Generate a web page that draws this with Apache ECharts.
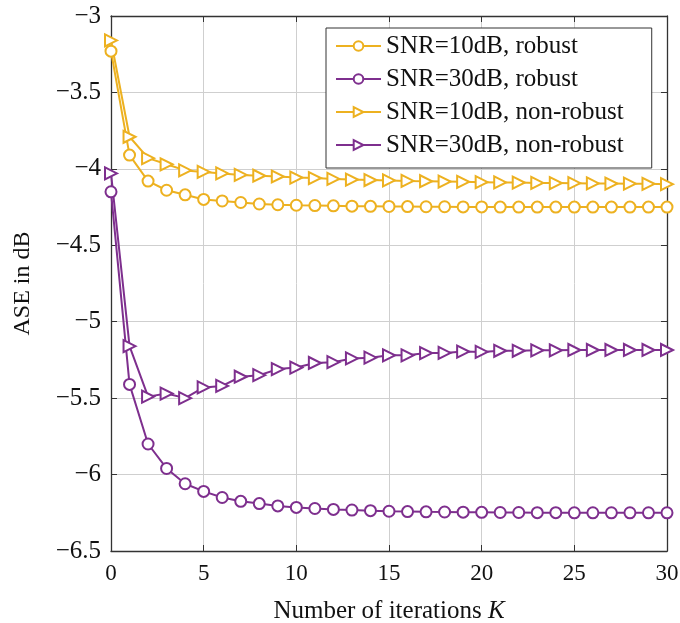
<!DOCTYPE html>
<html>
<head>
<meta charset="utf-8">
<script src="https://cdn.jsdelivr.net/npm/echarts@6/dist/echarts.min.js"></script>
<style>
  html, body { margin: 0; padding: 0; background: #fff; }
  #chart { width: 680px; height: 623px; }
</style>
</head>
<body>
<div id="chart"></div>
<script>
// iterations K = 0..30
var iterations = [];
for (var i = 0; i <= 30; i++) iterations.push(i);

var snr10Robust = [-3.23, -3.91, -4.08, -4.14, -4.17, -4.20, -4.21, -4.22, -4.23, -4.235,
  -4.238, -4.24, -4.242, -4.244, -4.245, -4.246, -4.247, -4.248, -4.248, -4.249,
  -4.249, -4.25, -4.25, -4.25, -4.25, -4.25, -4.25, -4.25, -4.25, -4.25, -4.25];
var snr30Robust = [-4.15, -5.41, -5.80, -5.96, -6.06, -6.11, -6.15, -6.175, -6.19, -6.205,
  -6.215, -6.222, -6.228, -6.232, -6.236, -6.24, -6.242, -6.244, -6.245, -6.246,
  -6.247, -6.248, -6.248, -6.249, -6.249, -6.25, -6.25, -6.25, -6.25, -6.25, -6.25];
var snr10NonRobust = [-3.16, -3.79, -3.93, -3.97, -4.01, -4.02, -4.03, -4.04, -4.045, -4.05,
  -4.057, -4.06, -4.066, -4.07, -4.073, -4.076, -4.079, -4.081, -4.083, -4.085,
  -4.087, -4.089, -4.09, -4.092, -4.093, -4.094, -4.095, -4.096, -4.097, -4.098, -4.10];
var snr30NonRobust = [-4.03, -5.16, -5.49, -5.47, -5.50, -5.43, -5.42, -5.36, -5.35, -5.31,
  -5.30, -5.27, -5.265, -5.24, -5.235, -5.22, -5.22, -5.205, -5.204, -5.195,
  -5.198, -5.19, -5.19, -5.187, -5.187, -5.185, -5.185, -5.185, -5.185, -5.185, -5.185];

var seriesNames = ['SNR=10dB, robust', 'SNR=30dB, robust', 'SNR=10dB, non-robust', 'SNR=30dB, non-robust'];

var yellow = '#EDB120';
var purple = '#7E2F8E';
var serif = '"Liberation Serif", "DejaVu Serif", serif';

function pairs(ys) {
  return iterations.map(function (k, idx) { return [k, ys[idx]]; });
}

function minusFmt(v) {
  return String(v).replace('-', '\u2212');
}

function makeSeries(name, ys, color, symbol, rotate, size) {
  return {
    name: name,
    type: 'line',
    data: pairs(ys),
    symbol: symbol,
    symbolSize: size,
    symbolRotate: rotate,
    showAllSymbol: true,
    animation: false,
    lineStyle: { color: color, width: 2 },
    itemStyle: { color: color, borderColor: color, borderWidth: 2 },
    z: 3
  };
}

var chart = echarts.init(document.getElementById('chart'));

chart.setOption({
  backgroundColor: '#fff',
  textStyle: { fontFamily: serif },
  grid: { left: 111, right: 13, top: 16, bottom: 72, containLabel: false, outerBoundsMode: 'none' },
  legend: {
    orient: 'vertical',
    left: 326,
    top: 28,
    padding: [5, 28, 10, 9],
    itemWidth: 45,
    itemHeight: 12,
    itemGap: 7,
    backgroundColor: '#fff',
    borderColor: '#333',
    borderWidth: 1,
    textStyle: { fontFamily: serif, fontSize: 25, color: '#111', lineHeight: 26 },
    data: seriesNames
  },
  xAxis: [{
    type: 'value',
    min: 0, max: 30, interval: 5,
    name: '{n|Number of iterations }{k|K}',
    nameLocation: 'middle',
    nameGap: 48,
    nameTextStyle: {
      rich: {
        n: { fontFamily: serif, fontSize: 25, color: '#111' },
        k: { fontFamily: serif, fontSize: 25, fontStyle: 'italic', color: '#111' }
      }
    },
    axisLine: { show: true, onZero: false, lineStyle: { color: '#333', width: 1.3 } },
    axisTick: { show: true, inside: true, length: 6, lineStyle: { color: '#333' } },
    axisLabel: { fontFamily: serif, fontSize: 23, color: '#111', margin: 11 },
    splitLine: { show: true, lineStyle: { color: '#cfcfcf', width: 1 } }
  }, {
    type: 'value',
    position: 'top',
    min: 0, max: 30, interval: 5,
    axisLine: { show: true, onZero: false, lineStyle: { color: '#333', width: 1.3 } },
    axisTick: { show: true, inside: true, length: 6, lineStyle: { color: '#333' } },
    axisLabel: { show: false },
    splitLine: { show: false }
  }],
  yAxis: [{
    type: 'value',
    min: -6.5, max: -3, interval: 0.5,
    name: 'ASE in dB',
    nameLocation: 'middle',
    nameGap: 76,
    nameTextStyle: { fontFamily: serif, fontSize: 24, color: '#111' },
    axisLine: { show: true, onZero: false, lineStyle: { color: '#333', width: 1.3 } },
    axisTick: { show: true, inside: true, length: 6, lineStyle: { color: '#333' } },
    axisLabel: { fontFamily: serif, fontSize: 25, color: '#111', margin: 10, formatter: minusFmt },
    splitLine: { show: true, lineStyle: { color: '#cfcfcf', width: 1 } }
  }, {
    type: 'value',
    position: 'right',
    min: -6.5, max: -3, interval: 0.5,
    axisLine: { show: true, onZero: false, lineStyle: { color: '#333', width: 1.3 } },
    axisTick: { show: true, inside: true, length: 6, lineStyle: { color: '#333' } },
    axisLabel: { show: false },
    splitLine: { show: false }
  }],
  series: [
    makeSeries(seriesNames[0], snr10Robust, yellow, 'emptyCircle', 0, 11),
    makeSeries(seriesNames[1], snr30Robust, purple, 'emptyCircle', 0, 11),
    makeSeries(seriesNames[2], snr10NonRobust, yellow, 'emptyTriangle', -90, 12),
    makeSeries(seriesNames[3], snr30NonRobust, purple, 'emptyTriangle', -90, 12)
  ]
});
</script>
</body>
</html>
